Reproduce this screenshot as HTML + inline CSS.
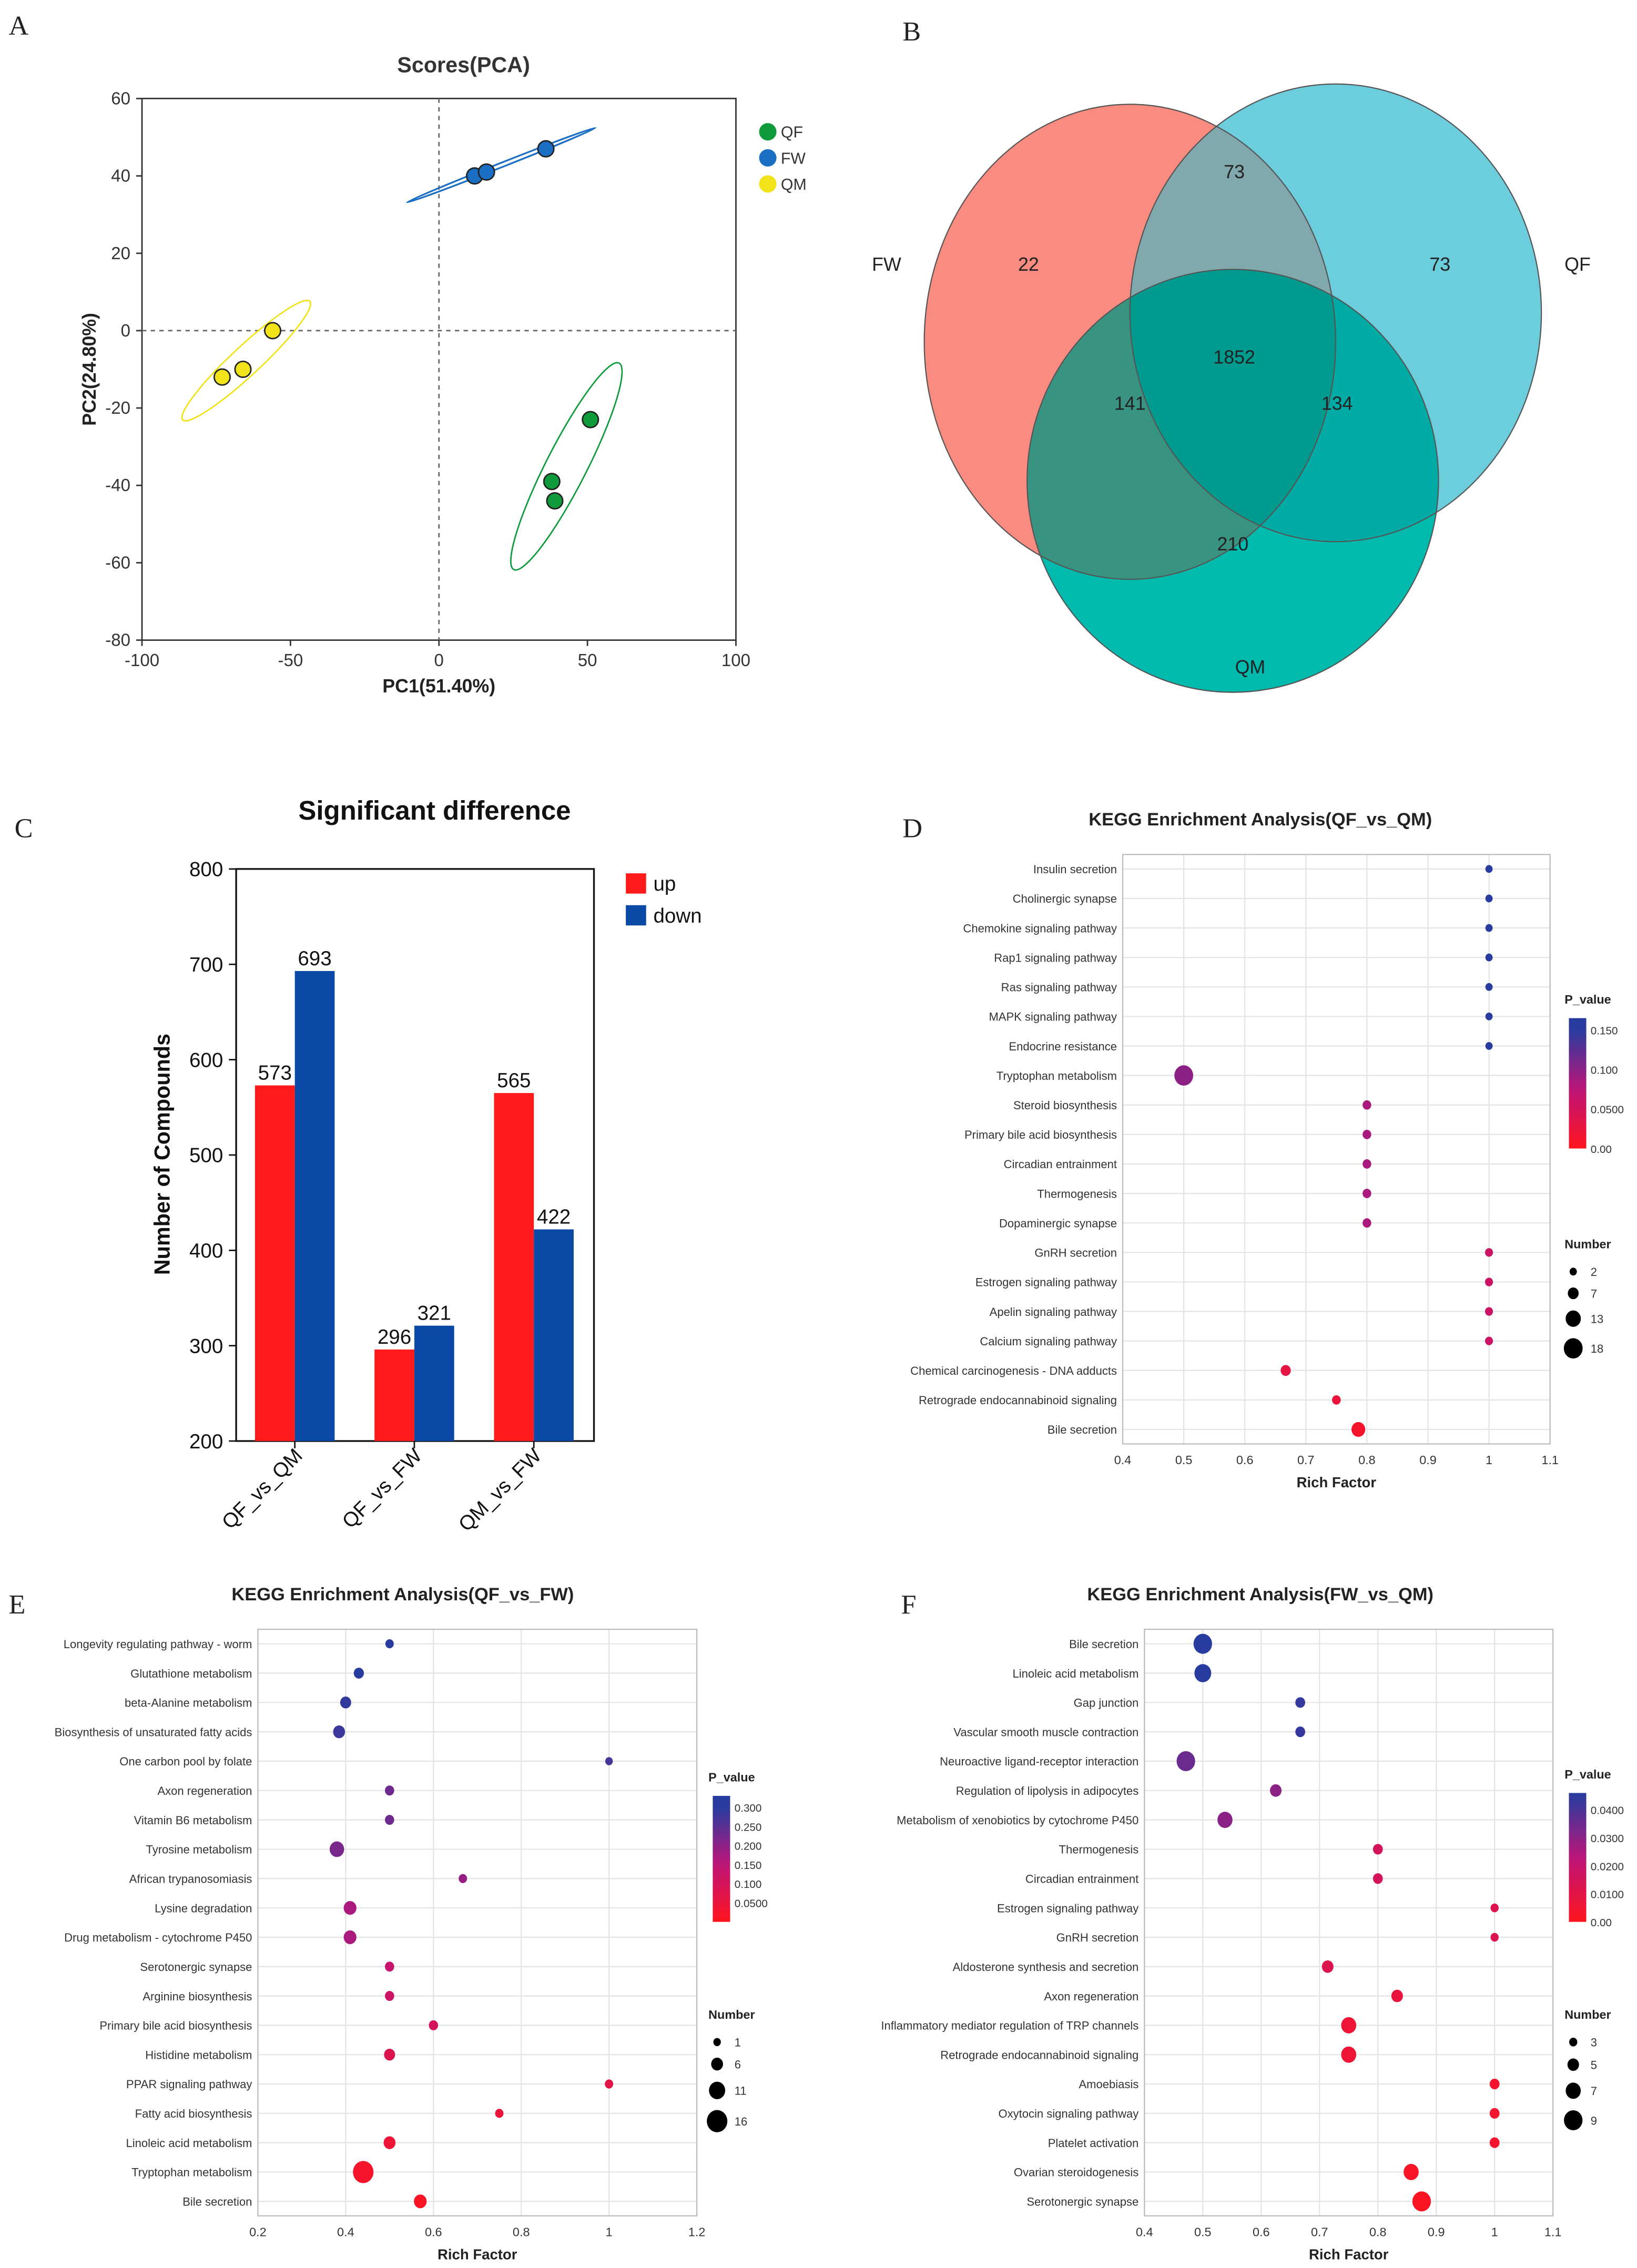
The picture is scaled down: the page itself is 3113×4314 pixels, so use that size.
<!DOCTYPE html>
<html><head><meta charset="utf-8">
<style>
html,body{margin:0;padding:0;background:#fff;}
svg{display:block;font-family:"Liberation Sans",sans-serif;}
</style></head>
<body>
<svg id="fig" xmlns="http://www.w3.org/2000/svg" width="3113" height="4314" viewBox="0 0 1130 1566">
<rect width="1130" height="1566" fill="#fff"/>
<g font-family="Liberation Serif,serif" font-size="19" fill="#222">
<text x="6" y="24">A</text>
<text x="623" y="28">B</text>
<text x="10" y="578">C</text>
<text x="623" y="578">D</text>
<text x="6" y="1114">E</text>
<text x="622" y="1114">F</text>
</g>
<!-- Venn -->
<defs>
<clipPath id="cFW"><ellipse cx="780" cy="236" rx="142" ry="164"/></clipPath>
<clipPath id="cQF"><ellipse cx="922" cy="216" rx="142" ry="158"/></clipPath>
<clipPath id="cQM"><ellipse cx="851" cy="332" rx="142" ry="146"/></clipPath>
</defs>
<g id="venn">
<ellipse cx="780" cy="236" rx="142" ry="164" fill="#f98b80"/>
<ellipse cx="922" cy="216" rx="142" ry="158" fill="#6ccddc"/>
<g clip-path="url(#cFW)"><ellipse cx="922" cy="216" rx="142" ry="158" fill="#80a8ad"/></g>
<ellipse cx="851" cy="332" rx="142" ry="146" fill="#00bbad"/>
<g clip-path="url(#cFW)"><ellipse cx="851" cy="332" rx="142" ry="146" fill="#389380"/></g>
<g clip-path="url(#cQF)"><ellipse cx="851" cy="332" rx="142" ry="146" fill="#00aba5"/></g>
<g clip-path="url(#cQF)"><g clip-path="url(#cFW)"><ellipse cx="851" cy="332" rx="142" ry="146" fill="#009a8e"/></g></g>
<g fill="none" stroke="#555" stroke-width="0.8">
<ellipse cx="780" cy="236" rx="142" ry="164"/>
<ellipse cx="922" cy="216" rx="142" ry="158"/>
<ellipse cx="851" cy="332" rx="142" ry="146"/>
</g>
<g font-size="13" fill="#222" text-anchor="middle">
<text x="612" y="187">FW</text>
<text x="1089" y="187">QF</text>
<text x="863" y="465">QM</text>
<text x="710" y="187">22</text>
<text x="852" y="123">73</text>
<text x="994" y="187">73</text>
<text x="852" y="251">1852</text>
<text x="780" y="283">141</text>
<text x="923" y="283">134</text>
<text x="851" y="380">210</text>
</g>
</g>
</svg>
<script>
const NS="http://www.w3.org/2000/svg";
const svg=document.getElementById('fig');
function mk(tag,attrs,parent,txt){const e=document.createElementNS(NS,tag);for(const k in attrs)e.setAttribute(k,attrs[k]);if(txt!==undefined)e.textContent=txt;(parent||svg).appendChild(e);return e;}

/* ===== Panel A: PCA ===== */
const pcaGroups=['QF','FW','QM'];
const pcaColors=['#0f9a3c','#1a6fc4','#f2e21a'];
const pcaX=[[51,38,39],[36,12,16],[-56,-73,-66]];
const pcaY=[[-23,-39,-44],[47,40,41],[0,-12,-10]];
const pcaXTicks=[-100,-50,0,50,100];
const pcaYTicks=[60,40,20,0,-20,-40,-60,-80];
const ax=v=>303+v*2.05, ay=v=>228.3-v*2.671;
const gA=mk('g',{});


let t=mk('text',{x:320,y:50,'text-anchor':'middle','font-size':15,'font-weight':'bold',fill:'#333'},gA,'Scores(PCA)');


let r=mk('rect',{x:98,y:68,width:410,height:374,fill:'none',stroke:'#333','stroke-width':1},gA);


mk('line',{x1:ax(0),x2:ax(0),y1:68,y2:442,stroke:'#666','stroke-dasharray':'3,3'},gA);
mk('line',{x1:98,x2:508,y1:ay(0),y2:ay(0),stroke:'#666','stroke-dasharray':'3,3'},gA);
pcaXTicks.forEach(v=>{mk('line',{x1:ax(v),x2:ax(v),y1:442,y2:446,stroke:'#333'},gA);
 const l=mk('text',{x:ax(v),y:460,'text-anchor':'middle','font-size':12,fill:'#333'},gA,v);
 
 });
pcaYTicks.forEach(v=>{mk('line',{x1:94,x2:98,y1:ay(v),y2:ay(v),stroke:'#333'},gA);
 const l=mk('text',{x:90,y:ay(v)+4,'text-anchor':'end','font-size':12,fill:'#333'},gA,v);
 
 });
t=mk('text',{x:303,y:478,'text-anchor':'middle','font-size':13,'font-weight':'bold',fill:'#222'},gA,'PC1(51.40%)');


t=mk('text',{x:0,y:0,transform:'translate(66,255) rotate(-90)','text-anchor':'middle','font-size':13,'font-weight':'bold',fill:'#222'},gA,'PC2(24.80%)');


let e=mk('ellipse',{cx:391,cy:322,rx:80,ry:14,transform:'rotate(-63 391 322)',fill:'none',stroke:'#0f9a3c','stroke-width':1},gA);


e=mk('ellipse',{cx:346,cy:114,rx:70,ry:1.5,transform:'rotate(-21.6 346 114)',fill:'none',stroke:'#1a6fc4','stroke-width':1.2},gA);


e=mk('ellipse',{cx:170,cy:249,rx:60,ry:10,transform:'rotate(-43 170 249)',fill:'none',stroke:'#f2e21a','stroke-width':1},gA);


pcaGroups.forEach((g,i)=>{pcaX[i].forEach((x,j)=>{
 const c=mk('circle',{cx:ax(x),cy:ay(pcaY[i][j]),r:5.5,fill:pcaColors[i],stroke:'#222','stroke-width':1},gA);
 
 });
 const lc=mk('circle',{cx:530,cy:91+i*18,r:6,fill:pcaColors[i]},gA);
 
 
 const lt=mk('text',{x:539,y:95+i*18,'font-size':11,fill:'#333'},gA,g);
 
 });

/* ===== Panel C: bar chart ===== */
const barCats=['QF_vs_QM','QF_vs_FW','QM_vs_FW'];
const upVals=[573,296,565];
const downVals=[693,321,422];
const barYTicks=[200,300,400,500,600,700,800];
const cy=v=>995-(v-200)*0.6583;
const gC=mk('g',{});


t=mk('text',{x:300,y:566,'text-anchor':'middle','font-size':18.5,'font-weight':'bold',fill:'#111'},gC,'Significant difference');


r=mk('rect',{x:163,y:600,width:247,height:395,fill:'none',stroke:'#111','stroke-width':1.2},gC);


barYTicks.forEach(v=>{mk('line',{x1:158,x2:163,y1:cy(v),y2:cy(v),stroke:'#111'},gC);
 const l=mk('text',{x:154,y:cy(v)+5,'text-anchor':'end','font-size':14,fill:'#111'},gC,v);
 
 });
t=mk('text',{x:0,y:0,transform:'translate(117,797) rotate(-90)','text-anchor':'middle','font-size':15,'font-weight':'bold',fill:'#111'},gC,'Number of Compounds');


const gStart=176, gStep=82.5, bw=27.5;
barCats.forEach((c,i)=>{const x0=gStart+i*gStep;
 const b1=mk('rect',{x:x0,y:cy(upVals[i]),width:bw,height:995-cy(upVals[i]),fill:'#fe1a1a'},gC);
 
 
 const b2=mk('rect',{x:x0+bw,y:cy(downVals[i]),width:bw,height:995-cy(downVals[i]),fill:'#0a4aa6'},gC);
 
 
 const l1=mk('text',{x:x0+bw/2,y:cy(upVals[i])-4,'text-anchor':'middle','font-size':14,fill:'#111'},gC,upVals[i]);
 
 
 const l2=mk('text',{x:x0+bw*1.5,y:cy(downVals[i])-4,'text-anchor':'middle','font-size':14,fill:'#111'},gC,downVals[i]);
 
 
 mk('line',{x1:x0+bw,x2:x0+bw,y1:995,y2:1000,stroke:'#111'},gC);
 const xl=mk('text',{x:0,y:0,transform:`translate(${x0+bw+6},1006) rotate(-45)`,'text-anchor':'end','font-size':14,fill:'#111'},gC,c);
 
 });
[['up','#fe1a1a'],['down','#0a4aa6']].forEach((p,i)=>{
 const s=mk('rect',{x:432,y:603+i*22,width:14,height:14,fill:p[1]},gC);
 
 
 const l=mk('text',{x:451,y:615+i*22,'font-size':14,fill:'#111'},gC,p[0]);
 
 });

/* ===== KEGG bubble charts ===== */
const dTerms=['Insulin secretion','Cholinergic synapse','Chemokine signaling pathway','Rap1 signaling pathway','Ras signaling pathway','MAPK signaling pathway','Endocrine resistance','Tryptophan metabolism','Steroid biosynthesis','Primary bile acid biosynthesis','Circadian entrainment','Thermogenesis','Dopaminergic synapse','GnRH secretion','Estrogen signaling pathway','Apelin signaling pathway','Calcium signaling pathway','Chemical carcinogenesis - DNA adducts','Retrograde endocannabinoid signaling','Bile secretion'];
const dRich=[1,1,1,1,1,1,1,0.5,0.8,0.8,0.8,0.8,0.8,1,1,1,1,0.667,0.75,0.786];
const dPval=[0.15,0.15,0.15,0.15,0.15,0.15,0.15,0.1,0.085,0.085,0.085,0.085,0.085,0.06,0.06,0.06,0.06,0.03,0.025,0.01];
const dNum=[2,2,2,2,2,2,2,18,4,4,4,4,4,3,3,3,3,6,4,11];
const dXTicks=[0.4,0.5,0.6,0.7,0.8,0.9,1,1.1];
const dPTicks=[0.15,0.1,0.05,0];
const dPLabels=['0.150','0.100','0.0500','0.00'];
const dNumLegend=[2,7,13,18];

const eTerms=['Longevity regulating pathway - worm','Glutathione metabolism','beta-Alanine metabolism','Biosynthesis of unsaturated fatty acids','One carbon pool by folate','Axon regeneration','Vitamin B6 metabolism','Tyrosine metabolism','African trypanosomiasis','Lysine degradation','Drug metabolism - cytochrome P450','Serotonergic synapse','Arginine biosynthesis','Primary bile acid biosynthesis','Histidine metabolism','PPAR signaling pathway','Fatty acid biosynthesis','Linoleic acid metabolism','Tryptophan metabolism','Bile secretion'];
const eRich=[0.5,0.43,0.4,0.385,1,0.5,0.5,0.38,0.667,0.41,0.41,0.5,0.5,0.6,0.5,1,0.75,0.5,0.44,0.57];
const ePval=[0.3,0.3,0.29,0.28,0.27,0.23,0.23,0.22,0.19,0.17,0.17,0.13,0.12,0.1,0.08,0.07,0.05,0.04,0.02,0.01];
const eNum=[2,4,5,6,1,3,3,9,2,7,7,3,3,3,5,2,2,6,16,7];
const eXTicks=[0.2,0.4,0.6,0.8,1,1.2];
const ePTicks=[0.3,0.25,0.2,0.15,0.1,0.05];
const ePLabels=['0.300','0.250','0.200','0.150','0.100','0.0500'];
const eNumLegend=[1,6,11,16];

const fTerms=['Bile secretion','Linoleic acid metabolism','Gap junction','Vascular smooth muscle contraction','Neuroactive ligand-receptor interaction','Regulation of lipolysis in adipocytes','Metabolism of xenobiotics by cytochrome P450','Thermogenesis','Circadian entrainment','Estrogen signaling pathway','GnRH secretion','Aldosterone synthesis and secretion','Axon regeneration','Inflammatory mediator regulation of TRP channels','Retrograde endocannabinoid signaling','Amoebiasis','Oxytocin signaling pathway','Platelet activation','Ovarian steroidogenesis','Serotonergic synapse'];
const fRich=[0.5,0.5,0.667,0.667,0.471,0.625,0.538,0.8,0.8,1,1,0.714,0.833,0.75,0.75,1,1,1,0.857,0.875];
const fPval=[0.045,0.045,0.043,0.043,0.035,0.03,0.03,0.015,0.015,0.012,0.012,0.012,0.008,0.006,0.006,0.004,0.004,0.004,0.002,0.001];
const fNum=[9,8,4,4,9,5,7,4,4,3,3,5,5,7,7,4,4,4,7,9];
const fXTicks=[0.4,0.5,0.6,0.7,0.8,0.9,1,1.1];
const fPTicks=[0.04,0.03,0.02,0.01,0];
const fPLabels=['0.0400','0.0300','0.0200','0.0100','0.00'];
const fNumLegend=[3,5,7,9];

function lerp(a,b,t){return a.map((v,i)=>Math.round(v+(b[i]-v)*t));}
function pcolor(t){t=Math.max(0,Math.min(1,t));const R=[255,20,30],M=[190,20,120],B=[40,60,160];
 const c=t<0.5?lerp(R,M,t*2):lerp(M,B,(t-0.5)*2);return `rgb(${c[0]},${c[1]},${c[2]})`;}

function bubble(id,cfg){
 const g=mk('g',{});
 
 
 const {x0,x1,y0,y1,xmin,xmax,terms,rich,pval,num,xTicks,pmax,pTicks,pLabels,numLeg,rMin,rScale,title,tx,cbx,cby0,cby1,numY}=cfg;
 const sx=v=>x0+(v-xmin)/(xmax-xmin)*(x1-x0);
 const step=(y1-y0-20)/(terms.length-1);
 const sy=i=>y0+10+i*step;
 const rad=n=>rMin+n*rScale;
 let tt=mk('text',{x:tx,y:y0-20,'text-anchor':'middle','font-size':12.5,'font-weight':'bold',fill:'#222'},g,title);
 
 
 xTicks.forEach(v=>{mk('line',{x1:sx(v),x2:sx(v),y1:y0,y2:y1,stroke:'#e4e4e4','stroke-width':0.8},g);
  const l=mk('text',{x:sx(v),y:y1+14,'text-anchor':'middle','font-size':8.5,fill:'#333'},g,String(v));
  
  });
 terms.forEach((tm,i)=>{mk('line',{x1:x0,x2:x1,y1:sy(i),y2:sy(i),stroke:'#e4e4e4','stroke-width':0.8},g);
  const l=mk('text',{x:x0-4,y:sy(i)+3,'text-anchor':'end','font-size':8,fill:'#333'},g,tm);
  
  });
 const fr=mk('rect',{x:x0,y:y0,width:x1-x0,height:y1-y0,fill:'none',stroke:'#bbb','stroke-width':0.8},g);
 
 
 terms.forEach((tm,i)=>{const rr=rad(num[i]);
  const c=mk('ellipse',{cx:sx(rich[i]),cy:sy(i),rx:rr,ry:rr*1.08,fill:pcolor(pval[i]/pmax)},g);
  
  });
 tt=mk('text',{x:(x0+x1)/2,y:y1+30,'text-anchor':'middle','font-size':10,'font-weight':'bold',fill:'#222'},g,'Rich Factor');
 
 
 const gid=id+'-grad';
 const defs=mk('defs',{},g);
 const lg=mk('linearGradient',{id:gid,x1:0,y1:1,x2:0,y2:0},defs);
 for(let k=0;k<=10;k++)mk('stop',{offset:k/10,'stop-color':pcolor(k/10*(cfg.cbTop/pmax))},lg);
 tt=mk('text',{x:cbx-3,y:cby0-10,'font-size':8.5,'font-weight':'bold',fill:'#222'},g,'P_value');
 
 
 const cb=mk('rect',{x:cbx,y:cby0,width:12,height:cby1-cby0,fill:`url(#${gid})`},g);
 
 
 const cbY=v=>cby1-v/cfg.cbTop*(cby1-cby0);
 pTicks.forEach((v,k)=>{const l=mk('text',{x:cbx+15,y:cbY(v)+3,'font-size':7.5,fill:'#333'},g,pLabels[k]);
  
  });
 tt=mk('text',{x:cbx-3,y:numY,'font-size':8.5,'font-weight':'bold',fill:'#222'},g,'Number');
 
 
 let yy=numY+16;
 numLeg.forEach(n=>{const rr=rad(n);
  const c=mk('ellipse',{cx:cbx+3,cy:yy,rx:rr,ry:rr*1.08,fill:'#000'},g);
  
  
  const l=mk('text',{x:cbx+15,y:yy+3,'font-size':8,fill:'#333'},g,n);
  
  
  yy+=rr*2+10;});
}
bubble('kegg-qf-vs-qm',{x0:775,x1:1070,y0:590,y1:997,xmin:0.4,xmax:1.1,terms:dTerms,rich:dRich,pval:dPval,num:dNum,xTicks:dXTicks,pmax:0.15,cbTop:0.165,pTicks:dPTicks,pLabels:dPLabels,numLeg:dNumLegend,rMin:2,rScale:0.25,title:'KEGG Enrichment Analysis(QF_vs_QM)',tx:870,cbx:1083,cby0:703,cby1:793,numY:862});
bubble('kegg-qf-vs-fw',{x0:178,x1:481,y0:1125,y1:1530,xmin:0.2,xmax:1.2,terms:eTerms,rich:eRich,pval:ePval,num:eNum,xTicks:eXTicks,pmax:0.3,cbTop:0.33,pTicks:ePTicks,pLabels:ePLabels,numLeg:eNumLegend,rMin:2.3,rScale:0.3,title:'KEGG Enrichment Analysis(QF_vs_FW)',tx:278,cbx:492,cby0:1240,cby1:1327,numY:1394});
bubble('kegg-fw-vs-qm',{x0:790,x1:1072,y0:1125,y1:1530,xmin:0.4,xmax:1.1,terms:fTerms,rich:fRich,pval:fPval,num:fNum,xTicks:fXTicks,pmax:0.045,cbTop:0.046,pTicks:fPTicks,pLabels:fPLabels,numLeg:fNumLegend,rMin:1,rScale:0.6,title:'KEGG Enrichment Analysis(FW_vs_QM)',tx:870,cbx:1083,cby0:1238,cby1:1327,numY:1394});
</script>
</body></html>
